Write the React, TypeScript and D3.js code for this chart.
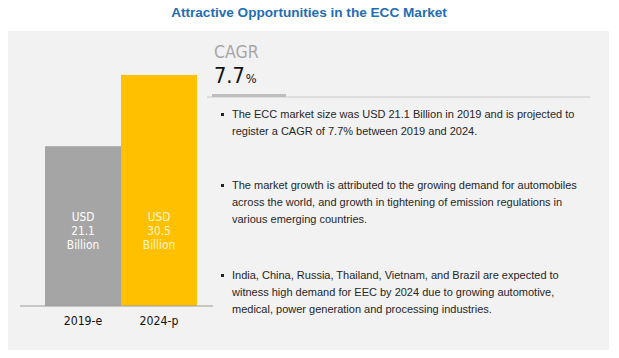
import React from 'react'
import { scaleBand, scaleLinear } from 'd3'

const years = ['2019-e', '2024-p']
const values = [21.1, 30.5]
const barColors = ['#A5A5A5', '#FFC000']
const labelColors = ['#FFFFFF', '#FFF6D5']
const cagrValue = '7.7'
const bullets = [
  [
    'The ECC market size was USD 21.1 Billion in 2019 and is projected to',
    'register a CAGR of 7.7% between 2019 and 2024.',
  ],
  [
    'The market growth is attributed to the growing demand for automobiles',
    'across the world, and growth in tightening of emission regulations in',
    'various emerging countries.',
  ],
  [
    'India, China, Russia, Thailand, Vietnam, and Brazil are expected to',
    'witness high demand for EEC by 2024 due to growing automotive,',
    'medical, power generation and processing industries.',
  ],
]
const bulletTops = [118, 189, 279]

const narrow = '"DejaVu Sans", sans-serif'
const body = '"Liberation Sans", Arial, sans-serif'

// condensed look: squeeze text horizontally around its anchor
function Squeeze({ x, k, children }: { x: number; k: number; children: React.ReactNode }) {
  return <g transform={`translate(${x},0) scale(${k},1)`}>{children}</g>
}

export default function App() {
  const x = scaleBand().domain(years).range([45, 197]).paddingInner(0)
  const y = scaleLinear().domain([0, 30.5]).range([306, 75])

  return (
    <svg width={619} height={358} style={{ position: 'absolute', left: 0, top: 0 }}>
      <rect x={0} y={0} width={619} height={358} fill="#fff" />
      <text x={309} y={17} textAnchor="middle" fontFamily={body} fontWeight="bold" fontSize={13.6} fill="#1F6DB2">
        Attractive Opportunities in the ECC Market
      </text>
      <rect x={8} y={31} width={601} height={319} fill="#F2F2F2" />

      {years.map((yr, i) => {
        const cx = (x(yr) as number) + x.bandwidth() / 2
        return (
          <g key={yr}>
            <rect x={x(yr)} y={y(values[i])} width={x.bandwidth()} height={y(0) - y(values[i])} fill={barColors[i]} />
            <Squeeze x={cx} k={0.85}>
              <text textAnchor="middle" fontFamily={narrow} fontSize={12.5} fill={labelColors[i]}>
                <tspan x={0} y={221}>USD</tspan>
                <tspan x={0} y={235}>{values[i].toFixed(1)}</tspan>
                <tspan x={0} y={249}>Billion</tspan>
              </text>
            </Squeeze>
            <Squeeze x={cx} k={0.88}>
              <text x={0} y={325} textAnchor="middle" fontFamily={narrow} fontSize={12.5} fill="#111">
                {yr}
              </text>
            </Squeeze>
          </g>
        )
      })}
      <line x1={20} x2={213} y1={y(0)} y2={y(0)} stroke="#9A9A9A" strokeWidth={1} />

      <Squeeze x={214} k={0.88}>
        <text x={0} y={58} fontFamily={narrow} fontSize={18} fill="#A6A6A6">CAGR</text>
        <text x={0} y={83} fontFamily={narrow} fill="#111">
          <tspan fontSize={22}>{cagrValue}</tspan>
          <tspan fontSize={13} dx={1}>%</tspan>
        </text>
      </Squeeze>
      <line x1={207} x2={590} y1={97} y2={97} stroke="#C8C8C8" strokeWidth={1} />
      <rect x={212} y={94} width={74} height={3} fill="#BFBFBF" />

      {bullets.map((lines, bi) => (
        <g key={bi}>
          <rect x={221} y={bulletTops[bi] - 5} width={3} height={3} fill="#222" />
          <text fontFamily={body} fontSize={11} fill="#262626">
            {lines.map((ln, li) => (
              <tspan key={li} x={232} y={bulletTops[bi] + li * 17}>{ln}</tspan>
            ))}
          </text>
        </g>
      ))}
    </svg>
  )
}
